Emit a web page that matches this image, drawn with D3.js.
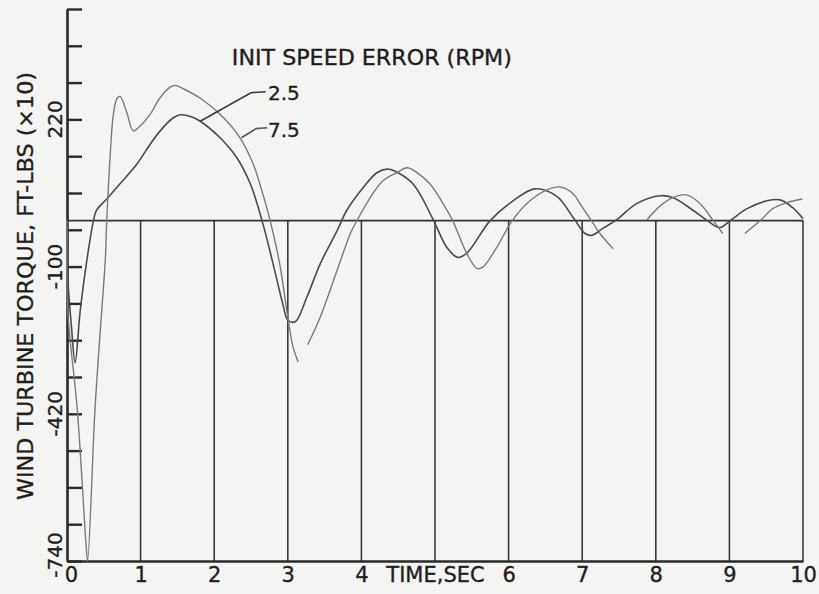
<!DOCTYPE html>
<html>
<head>
<meta charset="utf-8">
<script src="https://cdn.jsdelivr.net/npm/d3@7"></script>
<style>
  html, body { margin: 0; padding: 0; background: #f4f4f2; }
  svg { display: block; }
  text { font-family: "DejaVu Sans", sans-serif; fill: #1e1e1e; stroke: #1e1e1e; stroke-width: 0.35px; }
</style>
</head>
<body>
<div id="chart"></div>
<script>
// time axis (sec) and tick labels
const xTicks = [0, 1, 2, 3, 4, 5, 6, 7, 8, 9, 10];
const xTickLabels = ["0", "1", "2", "3", "4", "TIME,SEC", "6", "7", "8", "9", "10"];
const gridTimes = [1, 2, 3, 4, 5, 6, 7, 8, 9, 10];

// torque axis (ft-lbs x10)
const yTicks = d3.range(-740, 461, 80);
const yLabelled = [220, -100, -420, -740];

// init speed error 2.5 rpm
const time25 = [0, 0.01, 0.06, 0.11, 0.18, 0.27, 0.36, 0.40, 0.54, 0.72, 0.95, 1.13, 1.26, 1.44, 1.54,
  1.70, 1.81, 2.08, 2.31, 2.49, 2.65, 2.80, 2.93, 3.00, 3.10, 3.26, 3.44, 3.67, 3.80, 4.02, 4.21,
  4.35, 4.45, 4.70, 4.97, 5.16, 5.31, 5.43, 5.75, 6.06, 6.36, 6.66, 6.88, 7.04, 7.13, 7.28, 7.47,
  7.74, 8.06, 8.23, 8.51, 8.70, 8.87, 9.01, 9.24, 9.51, 9.69, 9.86, 10.0];
const torque25 = [0, -120, -230, -309, -195, -86, 0, 22, 47, 80, 123, 166, 194, 223, 230,
  225, 216, 180, 136, 80, 0, -94, -180, -216, -220, -166, -94, -22, 22, 71, 104,
  112, 108, 80, 4, -58, -80, -71, 0, 43, 69, 52, 6, -28, -32, -17, 2,
  37, 54, 50, 22, 0, -15, 0, 26, 43, 45, 28, 4];

// init speed error 7.5 rpm (null = gap in the trace)
const time75 = [0, 0.01, 0.14, 0.26, 0.28, 0.38, 0.45, 0.52, 0.54, 0.58, 0.63, 0.68, 0.72, 0.76, 0.82,
  0.90, 0.99, 1.13, 1.26, 1.40, 1.47, 1.60, 1.81, 2.08, 2.35, 2.53, 2.66, 2.76, 2.89, 3.00, 3.07,
  3.14, 3.20, 3.27, 3.44, 3.67, 3.85, 3.94, 4.12, 4.29, 4.48, 4.62, 4.75, 4.93, 5.11, 5.24, 5.43,
  5.57, 5.65, 5.84, 6.05, 6.29, 6.52, 6.70, 6.88, 6.97, 7.15, 7.24, 7.42, 7.60, 7.88, 8.06, 8.23,
  8.42, 8.60, 8.78, 8.91, 9.05, 9.21, 9.42, 9.59, 9.78, 9.99];
const torque75 = [0, -195, -411, -707, -740, -411, -244, -86, 0, 123, 231, 266, 270, 259, 231,
  195, 205, 231, 266, 290, 294, 285, 266, 231, 180, 123, 58, 0, -94, -210, -274,
  -307, null, -270, -210, -108, -28, 0, 50, 86, 104, 115, 105, 80, 37, 0, -71,
  -104, -101, -58, 0, 43, 67, 73, 58, 37, -6, -28, -61, null, 2, 32, 50,
  56, 37, 0, -28, null, -28, 0, 26, 39, 47];

const W = 819, H = 594;

const x = d3.scaleLinear().domain([0, 10]).range([67, 803]);
const y = d3.scaleLinear().domain([-740, 460]).range([561, 9]);

const svg = d3.select("#chart").append("svg")
  .attr("width", W)
  .attr("height", H);

svg.append("rect")
  .attr("width", W)
  .attr("height", H)
  .attr("fill", "#f4f4f2");

// vertical grid lines below the zero line
svg.append("g")
  .selectAll("line")
  .data(gridTimes)
  .join("line")
  .attr("x1", d => x(d))
  .attr("x2", d => x(d))
  .attr("y1", y(0))
  .attr("y2", y(-740))
  .attr("stroke", "#3a3a3a")
  .attr("stroke-width", 1.6);

// zero line
svg.append("line")
  .attr("x1", x(0))
  .attr("x2", x(10))
  .attr("y1", y(0))
  .attr("y2", y(0))
  .attr("stroke", "#333")
  .attr("stroke-width", 1.8);

// y axis, ticks pointing inward
const yAxis = svg.append("g")
  .attr("transform", `translate(${x(0)},0)`)
  .call(d3.axisRight(y).tickValues(yTicks).tickSize(15).tickSizeOuter(0).tickFormat(""));
yAxis.select(".domain").attr("stroke", "#2a2a2a").attr("stroke-width", 2.6);
yAxis.selectAll(".tick line").attr("stroke", "#2a2a2a").attr("stroke-width", 2.4);

// rotated y labels
svg.append("g")
  .selectAll("text")
  .data(yLabelled)
  .join("text")
  .attr("transform", d => `translate(62,${y(d) - (d === -740 ? 6 : 0)}) rotate(-90)`)
  .attr("text-anchor", "middle")
  .attr("font-size", 20)
  .text(d => d);

// x axis
const xAxis = svg.append("g")
  .attr("transform", `translate(0,${y(-740)})`)
  .call(d3.axisBottom(x).tickValues(xTicks).tickSize(0).tickPadding(6)
    .tickFormat((d, i) => xTickLabels[i]));
xAxis.select(".domain").attr("stroke", "#2a2a2a").attr("stroke-width", 2.4);
xAxis.selectAll("text")
  .attr("font-size", 21)
  .attr("fill", "#1e1e1e")
  .attr("font-family", "DejaVu Sans, sans-serif")
  .attr("dx", (d) => d === 0 ? 4 : 0);

// y title
svg.append("text")
  .attr("transform", "translate(33,286) rotate(-90)")
  .attr("text-anchor", "middle")
  .attr("font-size", 21)
  .attr("textLength", 428)
  .attr("lengthAdjust", "spacingAndGlyphs")
  .text("WIND TURBINE TORQUE, FT-LBS (\u00d710)");

// traces
const line = d3.line()
  .defined(d => d[1] !== null)
  .x(d => x(d[0]))
  .y(d => y(d[1]))
  .curve(d3.curveCatmullRom.alpha(0.5));

const series = [
  { name: "2.5", t: time25, v: torque25, color: "#4a4a4a", width: 1.6 },
  { name: "7.5", t: time75, v: torque75, color: "#7a7a7a", width: 1.4 }
];

svg.append("g")
  .selectAll("path")
  .data(series)
  .join("path")
  .attr("fill", "none")
  .attr("stroke", d => d.color)
  .attr("stroke-width", d => d.width)
  .attr("d", d => line(d.t.map((t, i) => [t, d.v[i]])));

// legend title and leaders
svg.append("text")
  .attr("x", x(2.24))
  .attr("y", y(339))
  .attr("font-size", 21)
  .attr("textLength", 280)
  .attr("lengthAdjust", "spacingAndGlyphs")
  .text("INIT SPEED ERROR (RPM)");

const leaders = [
  { label: "2.5", pts: [[1.81, 216], [2.5, 278], [2.7, 280]], text: [2.73, 262], color: "#3a3a3a" },
  { label: "7.5", pts: [[2.37, 180], [2.57, 200], [2.72, 202]], text: [2.73, 182], color: "#5a5a5a" }
];

const leaderLine = d3.line().x(d => x(d[0])).y(d => y(d[1]));

svg.append("g")
  .selectAll("path")
  .data(leaders)
  .join("path")
  .attr("fill", "none")
  .attr("stroke", d => d.color)
  .attr("stroke-width", 1.6)
  .attr("d", d => leaderLine(d.pts));

svg.append("g")
  .selectAll("text")
  .data(leaders)
  .join("text")
  .attr("x", d => x(d.text[0]))
  .attr("y", d => y(d.text[1]))
  .attr("font-size", 20)
  .text(d => d.label);
</script>
</body>
</html>
